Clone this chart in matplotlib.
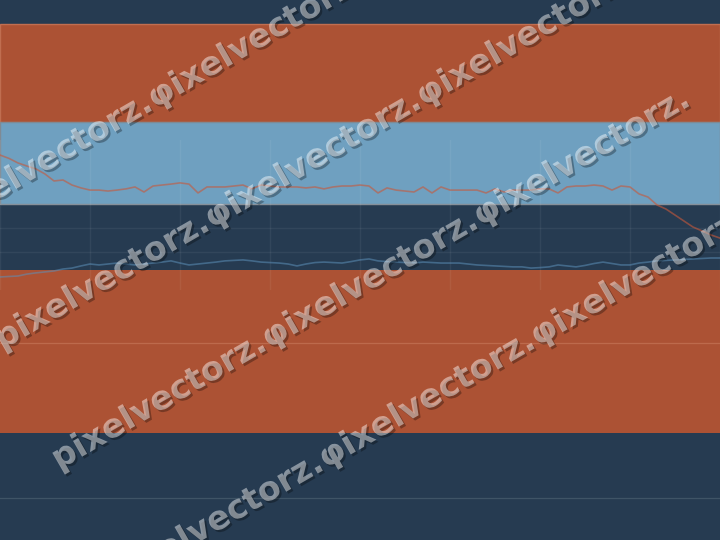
import matplotlib
matplotlib.use("Agg")
import matplotlib.pyplot as plt
import matplotlib.patheffects as pe
import numpy as np

# sample index (one point every step)
x = np.arange(81)

# upper series (drawn over the light band)
upper = [60.4, 59.0, 57.1, 55.8, 54.6, 52.5, 49.6, 50.0, 47.9, 46.7,
         45.8, 45.8, 45.4, 45.8, 46.3, 47.1, 45.0, 47.5, 47.9, 48.3,
         48.8, 48.3, 44.6, 47.1, 47.1, 47.1, 47.5, 47.9, 46.3, 47.9,
         47.5, 47.1, 47.1, 47.1, 46.7, 47.1, 46.3, 47.1, 47.5, 47.5,
         47.9, 47.5, 44.6, 46.7, 45.8, 45.4, 45.0, 47.1, 44.6, 47.1,
         45.8, 45.8, 45.8, 45.8, 44.6, 46.3, 45.0, 45.8, 45.8, 45.8,
         46.3, 46.3, 44.6, 47.1, 47.5, 47.5, 47.9, 47.5, 45.8, 47.5,
         47.1, 44.2, 42.9, 39.6, 37.9, 35.4, 32.9, 30.4, 28.8, 27.1,
         25.8]

# lower series (drawn across the dark band)
lower = [9.6, 9.8, 10.0, 10.8, 11.3, 11.7, 12.1, 12.9, 13.3, 14.2,
         15.0, 14.6, 15.0, 15.4, 15.0, 14.6, 15.0, 15.4, 15.8, 16.3,
         15.4, 14.6, 15.0, 15.4, 15.8, 16.3, 16.5, 16.7, 16.3, 15.8,
         15.6, 15.4, 15.0, 14.2, 15.0, 15.6, 15.8, 15.6, 15.4, 16.0,
         16.7, 17.1, 16.3, 16.0, 15.8, 15.6, 15.4, 15.8, 15.6, 15.4,
         15.4, 15.4, 15.0, 14.6, 14.4, 14.2, 14.0, 13.8, 13.8, 13.3,
         13.5, 13.8, 14.6, 14.2, 13.8, 14.4, 15.2, 15.8, 15.2, 14.6,
         14.6, 15.4, 15.8, 16.3, 16.5, 16.7, 16.9, 17.1, 17.3, 17.5,
         17.5]

# horizontal zones (low, high) and reference levels
zones = [(74.0, 115.0), (40.0, 74.0), (-55.5, 12.5)]
zone_colors = ["#ac5234", "#6fa0c0", "#ac5234"]
zone_edges = ["#c06e50", "#7f8a94", "none"]
ref_levels = [-18.0, -82.5]
ref_colors = ["#bd6a4c", "#3f5466"]

y_ticks = [20, 30, 40]
x_ticks = np.arange(0, 81, 10)

watermark = "pixelvectorz.φixelvectorz.φixelvectorz."

BG = "#263b51"

fig = plt.figure(figsize=(7.2, 5.4), dpi=100, facecolor=BG)

# background layer with the coloured zones
bg = fig.add_axes([0, 0, 1, 1], zorder=0)
bg.set_facecolor(BG)
bg.set_xlim(0, 1)
bg.set_ylim(-100, 125)
for (lo, hi), c, ec in zip(zones, zone_colors, zone_edges):
    bg.axhspan(lo, hi, facecolor=c, edgecolor=ec, linewidth=1.0)
for lvl, c in zip(ref_levels, ref_colors):
    bg.axhline(lvl, color=c, linewidth=0.9)
bg.axis("off")

# plotting layer
ax = fig.add_axes([0, 250 / 540, 1, 150 / 540], zorder=1)
ax.patch.set_visible(False)
ax.set_xlim(0, 80)
ax.set_ylim(20 - 38 / 2.4, 20 + 112 / 2.4)
ax.set_xticks(x_ticks)
ax.set_yticks(y_ticks)
ax.grid(True, color="white", alpha=0.06, linewidth=1.0)
ax.tick_params(length=0, labelbottom=False, labelleft=False)
for s in ax.spines.values():
    s.set_visible(False)
ax.set_axisbelow(True)

ax.plot(x, upper, color="#c8583a", alpha=0.6, linewidth=1.2)
ax.plot(x, lower, color="#5c8fb8", alpha=0.55, linewidth=1.2)

# watermark rows
starts = [(-55, 230), (2, 350), (59, 470), (116, 590)]
for px, py in starts:
    fig.text(px / 720, 1 - py / 540, watermark, rotation=30,
             rotation_mode="anchor", ha="left", va="baseline",
             fontsize=24, fontweight="bold", family="DejaVu Sans",
             color="white", alpha=0.45, zorder=5,
             path_effects=[pe.SimplePatchShadow(offset=(1.5, -1.5),
                                                shadow_rgbFace="black",
                                                alpha=0.3),
                           pe.Normal()])

fig.savefig("out.png", dpi=100, facecolor=BG)
